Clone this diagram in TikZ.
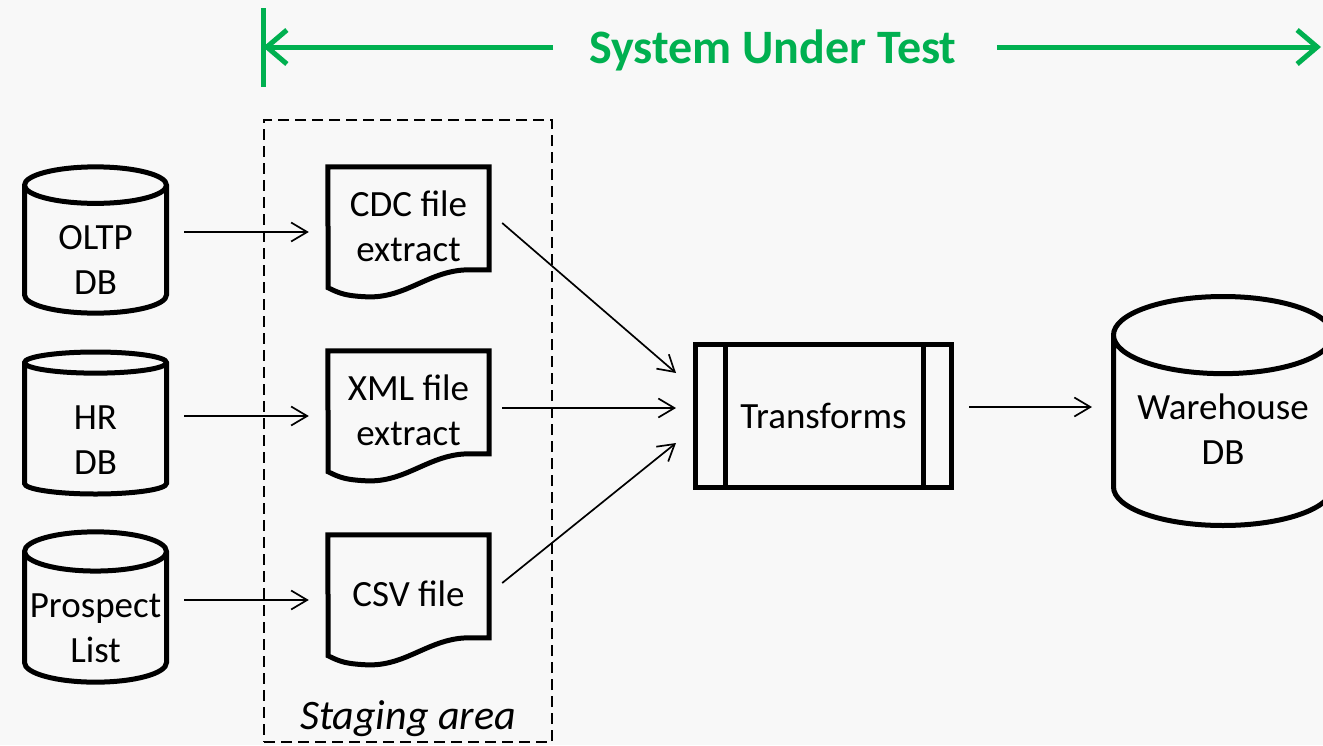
\documentclass[tikz,border=0pt]{standalone}
\usepackage{fontspec}
\setmainfont{Carlito}
\usetikzlibrary{shapes.geometric,arrows.meta}
\definecolor{sutgreen}{RGB}{0,176,80}
\definecolor{paper}{RGB}{248,248,248}
\begin{document}
\begin{tikzpicture}[x=1pt,y=-1pt,
	every node/.style={font=\fontsize{37}{45}\selectfont,align=center,inner sep=0pt},
	dbase/.style={cylinder,shape border rotate=90,draw,line width=5pt,aspect=0.49,
		text height=89pt,text depth=0pt,
		minimum width=142pt,minimum height=142pt,anchor=shape center},
	docfile/.style={minimum width=161pt,minimum height=130pt,text depth=12pt},
	flow/.style={line width=1.7pt,-{Straight Barb[length=16pt,width=19pt]}},
	sutarrow/.style={sutgreen,line width=5pt,-{Straight Barb[length=20pt,width=34pt]}}]
\useasboundingbox (0,0) rectangle (1323,745);
\fill[paper] (0,0) rectangle (1323,745);
% system under test
\node[sutgreen,font=\bfseries\fontsize{48}{58}\selectfont,anchor=base] (sut) at (773,63) {System Under Test};
\coordinate (sutl) at (263,47);
\coordinate (sutr) at (1321,47);
\draw[sutgreen,line width=5pt] (263,8) -- (263,87);
\draw[sutarrow,shorten <=36pt] (sut.west |- sutl) -- (sutl);
\draw[sutarrow,shorten <=40pt] (sut.east |- sutr) -- (sutr);
% staging area
\node[draw,line width=2.5pt,dash pattern=on 11pt off 6pt,minimum width=288pt,minimum height=622pt] (stage) at (408,431) {};
\node[font=\itshape\fontsize{42}{50}\selectfont,anchor=base] (stagelbl) at ([yshift=14pt]stage.south) {Staging area};
% sources
\node[dbase] (oltp) at (95.5,240) {OLTP\\DB};
\node[dbase] (hr) at (95.5,423) {HR\\DB};
\node[dbase] (prosp) at (95.5,607) {\makebox[80pt]{Prospect}\\List};
% extracts
\node[docfile] (cdc) at (408.5,232) {CDC file\\extract};
\node[docfile] (xml) at (408.5,416) {XML file\\extract};
\node[docfile] (csv) at (408.5,600) {CSV file};
\foreach \d in {cdc,xml,csv}
	\draw[line width=5pt] (\d.north west) -- (\d.north east) -- ++(0,103) -- ++(-20,0)
		.. controls +(-40,0) and +(40,2) .. ++(-103,27)
		.. controls +(-20,-1) and +(12,6) .. ++(-38,-9) -- cycle;
% transforms and warehouse
\node[draw,line width=5pt,minimum width=256pt,minimum height=143pt] (tr) at (823.5,416) {Transforms};
\draw[line width=5pt] ([xshift=32pt]tr.north west) -- ([xshift=32pt]tr.south west);
\draw[line width=5pt] ([xshift=-31pt]tr.north east) -- ([xshift=-31pt]tr.south east);
\node[dbase,aspect=0.45,text height=66pt,minimum width=219pt,minimum height=229pt] (wh) at (1223,411) {Warehouse\\DB};
% flows
\draw[flow,shorten <=15pt,shorten >=19pt] (oltp.east |- cdc.west) -- (cdc.west);
\draw[flow,shorten <=15pt,shorten >=19pt] (hr.east |- xml.west) -- (xml.west);
\draw[flow,shorten <=15pt,shorten >=19pt] (prosp.east |- csv.west) -- (csv.west);
\draw[flow] ([xshift=13pt,yshift=9pt]cdc.east) -- ([xshift=-17pt,yshift=43pt]tr.west);
\draw[flow] ([xshift=13pt,yshift=8pt]xml.east) -- ([xshift=-17pt,yshift=8pt]tr.west);
\draw[flow] ([xshift=13pt,yshift=17pt]csv.east) -- ([xshift=-17pt,yshift=-27pt]tr.west);
\draw[flow,shorten <=15pt,shorten >=19pt] ([yshift=9pt]tr.east) -- ([yshift=9pt]tr.east -| wh.west);
\end{tikzpicture}
\end{document}
